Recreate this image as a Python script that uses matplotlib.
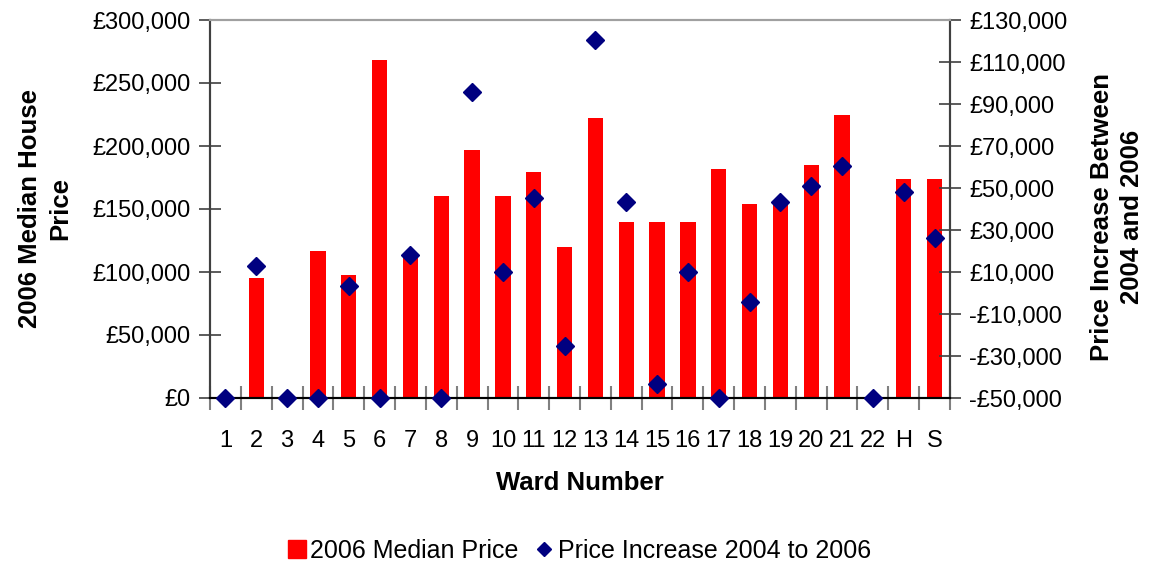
import matplotlib
matplotlib.use('Agg')
import numpy as np
import matplotlib.pyplot as plt
from matplotlib.lines import Line2D
from matplotlib.ticker import FuncFormatter, FixedLocator

plt.rcParams['font.family'] = ['Liberation Sans', 'DejaVu Sans']

# Дані по округах
wards = ['1', '2', '3', '4', '5', '6', '7', '8', '9', '10', '11', '12',
         '13', '14', '15', '16', '17', '18', '19', '20', '21', '22', 'H', 'S']
median_2006 = [0, 95000, 0, 117000, 98000, 268000, 115000, 160000, 197000,
               160000, 179000, 120000, 222000, 140000, 140000, 140000,
               182000, 154000, 157000, 185000, 225000, 0, 174000, 174000]
increase_04_06 = [-50000, 12700, -50000, -50000, 3200, -50000, 18300, -50000,
                  95700, 10000, 45200, -25400, 120500, 43300, -43300, 10000,
                  -50000, -4200, 43300, 50900, 60600, -50000, 48000, 26100]

BAR_RED = '#ff0000'
NAVY = '#000080'


def pounds(v, pos=None):
    s = '£{:,.0f}'.format(abs(v))
    return '-' + s if v < 0 else s


fig = plt.figure(figsize=(11.5, 5.65), dpi=100)
ax = fig.add_axes([210 / 1150, 1 - 398 / 565, 740 / 1150, 378 / 565])
ax2 = ax.twinx()

x = np.arange(len(wards))
ax.bar(x, median_2006, width=0.5, color=BAR_RED, zorder=2)
ax2.plot(x, increase_04_06, linestyle='none', marker='D', markersize=9,
         color=NAVY, clip_on=False, zorder=3)

ax.set_xlim(-0.5, len(wards) - 0.5)
ax.set_ylim(0, 300000)
ax2.set_ylim(-50000, 130000)
ax.set_yticks(np.arange(0, 300001, 50000))
ax2.set_yticks(np.arange(-50000, 130001, 20000))
ax.yaxis.set_major_formatter(FuncFormatter(pounds))
ax2.yaxis.set_major_formatter(FuncFormatter(pounds))

# Поділки між категоріями, підписи по центру
ax.xaxis.set_major_locator(FixedLocator(np.arange(-0.5, len(wards), 1.0)))
ax.xaxis.set_minor_locator(FixedLocator(x))
ax.set_xticklabels([], minor=False)
ax.set_xticklabels(wards, minor=True)
ax.tick_params(axis='x', which='major', direction='inout', length=17,
               color='#808080', width=1.5)
ax.tick_params(axis='x', which='minor', length=0, pad=23, labelsize=17)
ax.tick_params(axis='y', direction='inout', length=16, width=1.2,
               color='#404040', labelsize=17, pad=6)
ax2.tick_params(axis='y', direction='inout', length=16, width=1.2,
                color='#404040', labelsize=17, pad=6)

for a in (ax, ax2):
    a.spines['top'].set_color('#a0a0a0')
    a.spines['top'].set_linewidth(1.5)
    a.spines['left'].set_color('#404040')
    a.spines['left'].set_linewidth(1.5)
    a.spines['right'].set_color('#404040')
    a.spines['right'].set_linewidth(1.5)
    a.spines['bottom'].set_color('black')
    a.spines['bottom'].set_linewidth(1.5)

fig.text(580 / 1150, 1 - 483 / 565, 'Ward Number', ha='center', va='center',
         fontsize=18.5, fontweight='bold')
fig.text(45 / 1150, 1 - 209 / 565, '2006 Median House\nPrice', rotation=90,
         ha='center', va='center', fontsize=18.5, fontweight='bold',
         multialignment='center', linespacing=1.35)
fig.text(1117 / 1150, 1 - 217 / 565, 'Price Increase Between\n2004 and 2006',
         rotation=90, ha='center', va='center', fontsize=18.5,
         fontweight='bold', multialignment='center', linespacing=1.35)

handles = [
    Line2D([], [], linestyle='none', marker='s', markersize=13,
           color=BAR_RED, label='2006 Median Price'),
    Line2D([], [], linestyle='none', marker='D', markersize=7,
           color=NAVY, label='Price Increase 2004 to 2006'),
]
fig.legend(handles=handles, loc='center', ncol=2,
           bbox_to_anchor=(580 / 1150, 1 - 551 / 565), frameon=False,
           fontsize=18, handlelength=0.6, handletextpad=0.25,
           columnspacing=0.7, borderpad=0)

fig.savefig('out.png', dpi=100)
